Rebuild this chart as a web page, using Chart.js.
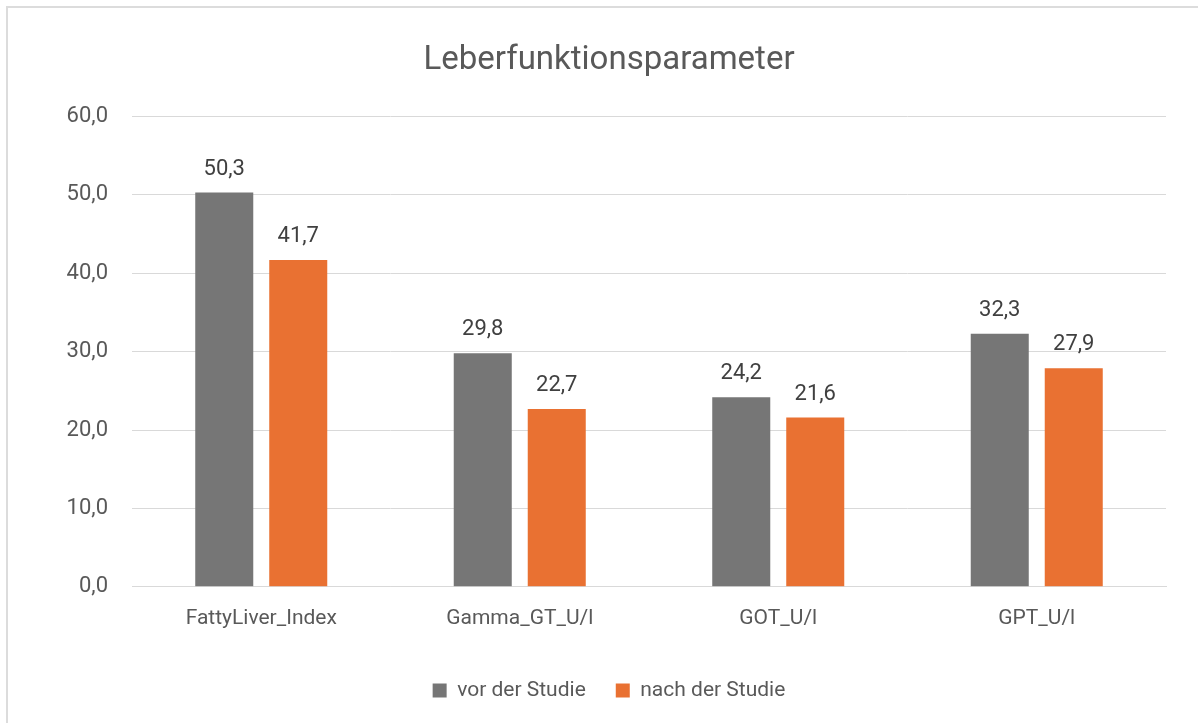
<!DOCTYPE html>
<html>
<head>
<meta charset="utf-8">
<script src="https://cdn.jsdelivr.net/npm/chart.js@4/dist/chart.umd.min.js"></script>
<style>
  html, body { margin: 0; padding: 0; background: #fff; overflow: hidden; }
  #wrap { position: relative; width: 1198px; height: 723px; }
  #frame { position: absolute; left: 6px; top: 6px; width: 1200px; height: 730px; border: 2px solid #dcdcdc; box-sizing: border-box; pointer-events: none; }
</style>
</head>
<body>
<div id="wrap">
  <canvas id="c" width="1198" height="723"></canvas>
  <div id="frame"></div>
</div>
<script>
const categories = ["FattyLiver_Index", "Gamma_GT_U/l", "GOT_U/l", "GPT_U/l"];
const seriesNames = ["vor der Studie", "nach der Studie"];
const vorValues = [50.3, 29.8, 24.2, 32.3];
const nachValues = [41.7, 22.7, 21.6, 27.9];
const yTicks = [0, 10, 20, 30, 40, 50, 60];
const chartTitle = "Leberfunktionsparameter";

const FONT = "Roboto, 'Liberation Sans', sans-serif";
const fmt = v => Number(v).toFixed(1).replace('.', ',');

const dataLabels = {
  id: 'dataLabels',
  afterDatasetsDraw(chart) {
    const ctx = chart.ctx;
    ctx.save();
    ctx.font = "22px " + FONT;
    ctx.fillStyle = "#404040";
    ctx.textAlign = "center";
    ctx.textBaseline = "alphabetic";
    chart.data.datasets.forEach((ds, i) => {
      const meta = chart.getDatasetMeta(i);
      meta.data.forEach((el, j) => {
        ctx.fillText(fmt(ds.data[j]), el.x, el.y - 18);
      });
    });
    ctx.restore();
  }
};

new Chart(document.getElementById('c'), {
  type: 'bar',
  data: {
    labels: categories,
    datasets: [
      { label: seriesNames[0], data: vorValues, backgroundColor: '#767676', categoryPercentage: 0.5725, barPercentage: 0.784 },
      { label: seriesNames[1], data: nachValues, backgroundColor: '#E97132', categoryPercentage: 0.5725, barPercentage: 0.784 }
    ]
  },
  options: {
    responsive: false,
    animation: false,
    layout: { padding: { left: 52, right: 32, top: 0, bottom: 12 } },
    plugins: {
      title: {
        display: true,
        text: chartTitle,
        color: '#595959',
        font: { family: FONT, size: 33, weight: 'normal' },
        padding: { top: 41, bottom: 36 }
      },
      legend: {
        position: 'bottom',
        labels: {
          color: '#595959',
          font: { family: FONT, size: 21 },
          boxWidth: 14,
          boxHeight: 14,
          padding: 30
        }
      },
      tooltip: { enabled: false }
    },
    scales: {
      x: {
        grid: { display: false, drawTicks: false },
        border: { color: '#d9d9d9', width: 1 },
        ticks: { color: '#595959', font: { family: FONT, size: 21 }, padding: 19 }
      },
      y: {
        min: 0, max: 60,
        afterBuildTicks(scale) { scale.ticks = yTicks.map(v => ({ value: v })); },
        afterFit(scale) { scale.width = 80; },
        grid: { color: '#d9d9d9', lineWidth: 1, drawTicks: false },
        border: { display: false },
        ticks: { color: '#595959', font: { family: FONT, size: 22 }, padding: 24, callback: v => fmt(v) }
      }
    }
  },
  plugins: [dataLabels]
});
</script>
</body>
</html>
